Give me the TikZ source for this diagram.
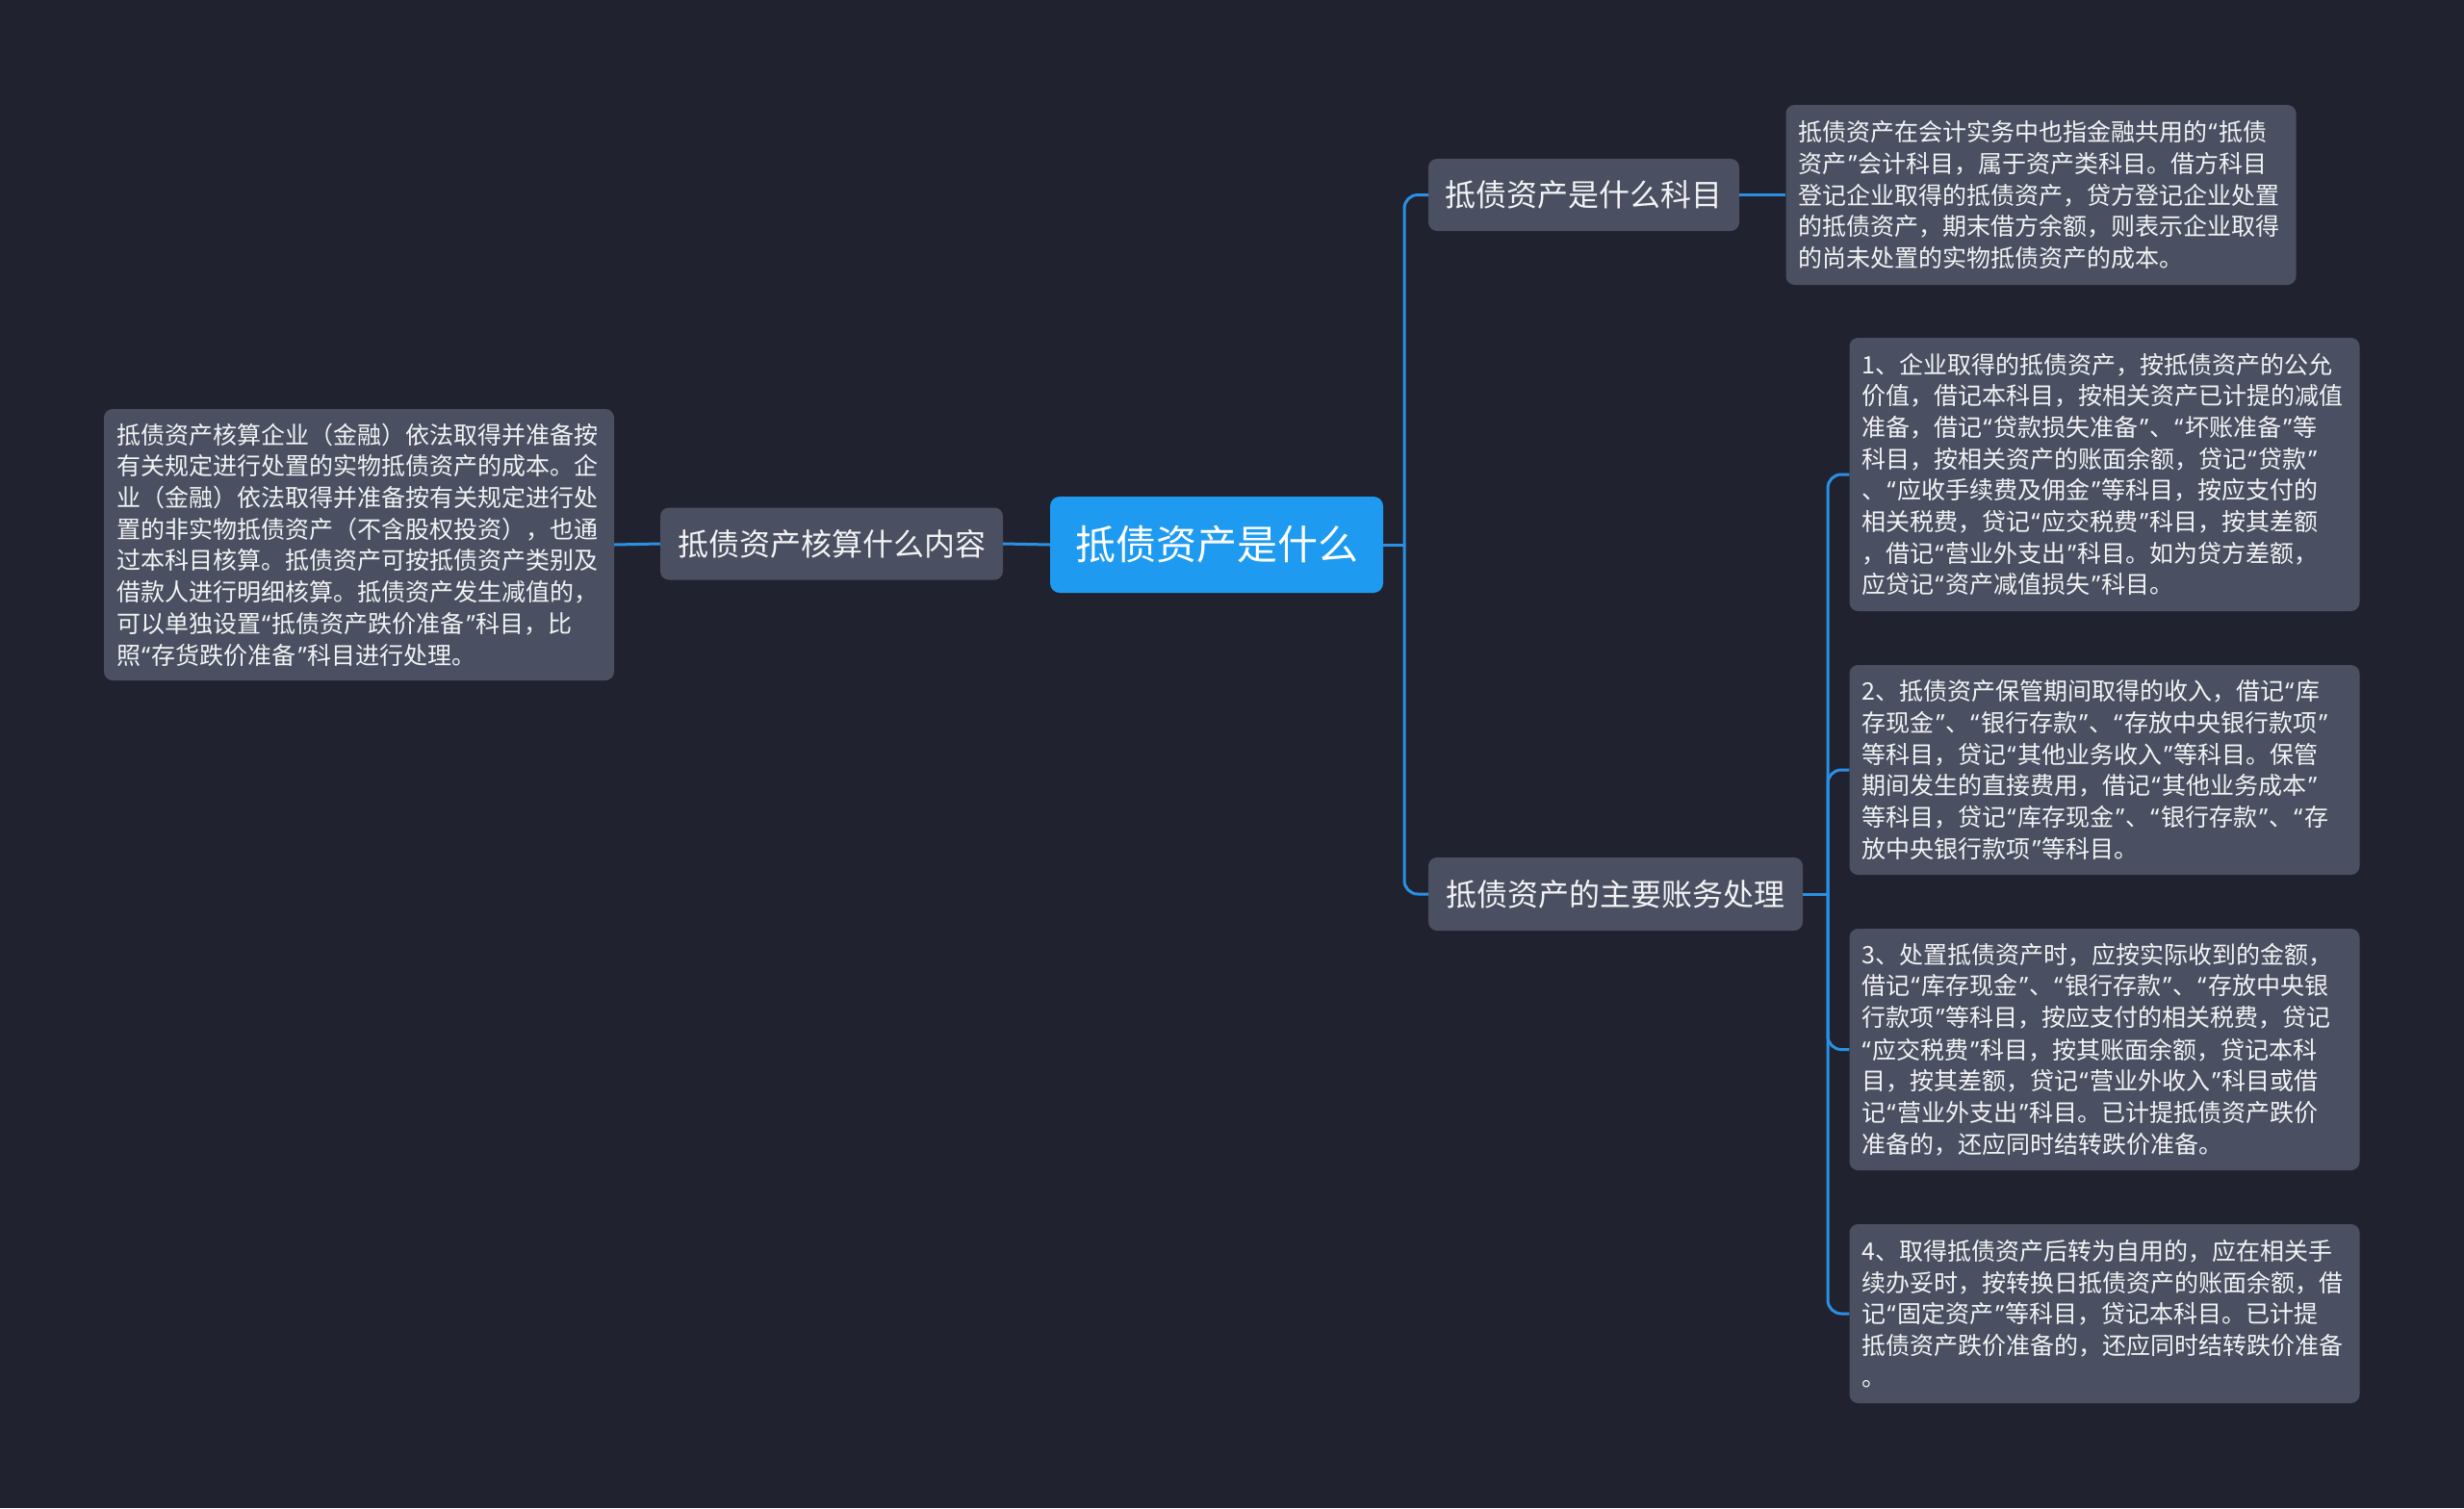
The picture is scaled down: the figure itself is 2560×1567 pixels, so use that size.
\documentclass[tikz,border=0pt]{standalone}
\usepackage{fontspec}
\setmainfont{Noto Sans CJK SC}
\newfontfamily\qf{Noto Sans}
\newcommand\oq{{\kern1pt\qf “\kern2pt}}
\newcommand\cq{{\kern2pt\qf ”\kern1pt}}
\definecolor{bg}{HTML}{20232F}
\definecolor{boxc}{HTML}{4A5061}
\definecolor{rootc}{HTML}{1E9BF0}
\definecolor{linec}{HTML}{2B8FE3}
\definecolor{txt}{HTML}{F2F3F5}
\begin{document}
\begin{tikzpicture}[x=1pt,y=-1pt,
  leafbox/.style={fill=boxc, rounded corners=9pt, text=txt, inner xsep=13pt, inner ysep=0pt,
    text width=504pt, align=left, font=\fontsize{25}{32.7}\selectfont, anchor=center},
  midbox/.style={fill=boxc, rounded corners=9pt, text=txt, font=\fontsize{32}{38}\selectfont,
    inner sep=0pt, anchor=center},
  rootbox/.style={fill=rootc, rounded corners=10pt, text=white, font=\fontsize{42}{48}\selectfont,
    inner sep=0pt, anchor=center, minimum width=346pt, minimum height=100pt},
  conn/.style={draw=linec, line width=3pt},
  bconn/.style={draw=linec, line width=3pt, rounded corners=14pt}]
\fill[bg] (0,0) rectangle (2560,1567);
\useasboundingbox (0,0) rectangle (2560,1567);

\node[rootbox] (root) at (1264,566) {抵债资产是什么};

\node[midbox, minimum width=356pt, minimum height=75pt] (cl) at (864,565) {抵债资产核算什么内容};
\node[midbox, minimum width=323pt, minimum height=75pt] (c1) at (1645.5,202.5) {抵债资产是什么科目};
\node[midbox, minimum width=389pt, minimum height=76pt] (c2) at (1678.5,929) {抵债资产的主要账务处理};

\node[leafbox, minimum height=282pt] (ll) at (373,566) {抵债资产核算企业（金融）依法取得并准备按\\
有关规定进行处置的实物抵债资产的成本。企\\
业（金融）依法取得并准备按有关规定进行处\\
置的非实物抵债资产（不含股权投资），也通\\
过本科目核算。抵债资产可按抵债资产类别及\\
借款人进行明细核算。抵债资产发生减值的，\\
可以单独设置\oq{}抵债资产跌价准备\cq{}科目，比\\
照\oq{}存货跌价准备\cq{}科目进行处理。};

\node[leafbox, minimum height=187pt] (lt) at (2120.5,202.5) {抵债资产在会计实务中也指金融共用的\oq{}抵债\\
资产\cq{}会计科目，属于资产类科目。借方科目\\
登记企业取得的抵债资产，贷方登记企业处置\\
的抵债资产，期末借方余额，则表示企业取得\\
的尚未处置的实物抵债资产的成本。};

\node[leafbox, minimum height=284pt] (l1) at (2186.5,493) {1、企业取得的抵债资产，按抵债资产的公允\\
价值，借记本科目，按相关资产已计提的减值\\
准备，借记\oq{}贷款损失准备\cq{}、\oq{}坏账准备\cq{}等\\
科目，按相关资产的账面余额，贷记\oq{}贷款\cq{}\\
、\oq{}应收手续费及佣金\cq{}等科目，按应支付的\\
相关税费，贷记\oq{}应交税费\cq{}科目，按其差额\\
，借记\oq{}营业外支出\cq{}科目。如为贷方差额，\\
应贷记\oq{}资产减值损失\cq{}科目。};

\node[leafbox, minimum height=218pt] (l2) at (2186.5,800) {2、抵债资产保管期间取得的收入，借记\oq{}库\\
存现金\cq{}、\oq{}银行存款\cq{}、\oq{}存放中央银行款项\cq{}\\
等科目，贷记\oq{}其他业务收入\cq{}等科目。保管\\
期间发生的直接费用，借记\oq{}其他业务成本\cq{}\\
等科目，贷记\oq{}库存现金\cq{}、\oq{}银行存款\cq{}、\oq{}存\\
放中央银行款项\cq{}等科目。};

\node[leafbox, minimum height=251pt] (l3) at (2186.5,1090.5) {3、处置抵债资产时，应按实际收到的金额，\\
借记\oq{}库存现金\cq{}、\oq{}银行存款\cq{}、\oq{}存放中央银\\
行款项\cq{}等科目，按应支付的相关税费，贷记\\
\oq{}应交税费\cq{}科目，按其账面余额，贷记本科\\
目，按其差额，贷记\oq{}营业外收入\cq{}科目或借\\
记\oq{}营业外支出\cq{}科目。已计提抵债资产跌价\\
准备的，还应同时结转跌价准备。};

\node[leafbox, minimum height=186pt] (l4) at (2186.5,1365) {4、取得抵债资产后转为自用的，应在相关手\\
续办妥时，按转换日抵债资产的账面余额，借\\
记\oq{}固定资产\cq{}等科目，贷记本科目。已计提\\
抵债资产跌价准备的，还应同时结转跌价准备\\
。};

\coordinate (j1) at (1459,566);
\coordinate (j2) at (1899,929);

\draw[conn] (root.west) -- (cl.east);
\draw[conn] (cl.west) -- (ll.east);
\draw[conn] (root.east) -- (j1);
\draw[bconn] (j1) |- (c1.west);
\draw[bconn] (j1) |- (c2.west);
\draw[conn] (c1.east) -- (lt.west);
\draw[conn] (c2.east) -- (j2);
\draw[bconn] (j2) |- (l1.west);
\draw[bconn] (j2) |- (l2.west);
\draw[bconn] (j2) |- (l3.west);
\draw[bconn] (j2) |- (l4.west);
\end{tikzpicture}
\end{document}
